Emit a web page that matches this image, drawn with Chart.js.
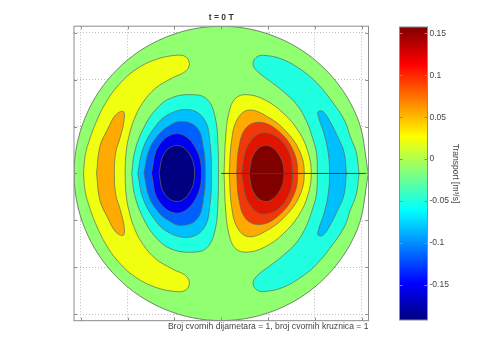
<!DOCTYPE html>
<html>
<head>
<meta charset="utf-8">
<style>
  html, body { margin: 0; padding: 0; background: #fff; }
  canvas { position: absolute; left: 0; top: 0; }
</style>
<script src="https://cdn.jsdelivr.net/npm/chart.js@4/dist/chart.umd.min.js"></script>
</head>
<body>
<canvas id="membrane" width="480" height="360"></canvas>
<canvas id="colorbar" width="480" height="360"></canvas>
<script>
// Axis ticks (no labels in the picture), the disk has radius pi
const axisLimit = 3.1416;
const axisTicks = [-3, -2, -1, 0, 1, 2, 3];

// Contour outlines, [x, y] in axis units
const disk = [[3.14,0],[2.9,-1.2],[2.22,-2.22],[1.2,-2.9],[0,-3.14],[-1.2,-2.9],[-2.22,-2.22],[-2.9,-1.2],[-3.14,0],[-2.9,1.2],[-2.22,2.22],[-1.2,2.9],[0,3.14],[1.2,2.9],[2.22,2.22],[2.9,1.2],[3.14,0]];
const yellowCrescent = [[-2.94,0],[-2.9,0.4],[-2.8,0.75],[-2.68,1.07],[-2.47,1.5],[-2.18,1.9],[-1.82,2.22],[-1.4,2.43],[-0.97,2.52],[-0.76,2.49],[-0.68,2.34],[-0.76,2.18],[-1.04,2.04],[-1.4,1.82],[-1.68,1.5],[-1.86,1.15],[-1.97,0.79],[-2.03,0.45],[-2.05,0],[-2.03,-0.45],[-1.97,-0.79],[-1.86,-1.15],[-1.68,-1.5],[-1.4,-1.82],[-1.04,-2.04],[-0.76,-2.18],[-0.68,-2.34],[-0.76,-2.49],[-0.97,-2.52],[-1.4,-2.43],[-1.82,-2.22],[-2.18,-1.9],[-2.47,-1.5],[-2.68,-1.07],[-2.8,-0.75],[-2.9,-0.4],[-2.94,0]];
const orangeCrescent = [[-2.66,0],[-2.59,0.57],[-2.43,0.93],[-2.25,1.25],[-2.09,1.32],[-2.07,1.15],[-2.15,0.79],[-2.25,0.45],[-2.28,0],[-2.25,-0.45],[-2.15,-0.79],[-2.07,-1.15],[-2.09,-1.32],[-2.25,-1.25],[-2.43,-0.93],[-2.59,-0.57],[-2.66,0]];
const cyanCrescent = [[2.94,0],[2.88,0.45],[2.75,0.79],[2.64,1.11],[2.39,1.5],[2.04,1.93],[1.75,2.18],[1.32,2.43],[0.9,2.52],[0.74,2.47],[0.68,2.32],[0.79,2.16],[1.04,1.97],[1.32,1.75],[1.61,1.47],[1.82,1.11],[1.96,0.72],[2.03,0.45],[2.05,0],[2.03,-0.45],[1.96,-0.72],[1.82,-1.11],[1.61,-1.47],[1.32,-1.75],[1.04,-1.97],[0.79,-2.16],[0.68,-2.32],[0.74,-2.47],[0.9,-2.52],[1.32,-2.43],[1.75,-2.18],[2.04,-1.93],[2.39,-1.5],[2.64,-1.11],[2.75,-0.79],[2.88,-0.45],[2.94,0]];
const blueCrescent = [[2.67,0],[2.62,0.45],[2.5,0.75],[2.32,1.11],[2.17,1.32],[2.07,1.32],[2.07,1.22],[2.19,0.86],[2.28,0.45],[2.31,0],[2.28,-0.45],[2.19,-0.86],[2.07,-1.22],[2.07,-1.32],[2.17,-1.32],[2.32,-1.11],[2.5,-0.75],[2.62,-0.45],[2.67,0]];
const troughCyan = [[-1.91,0],[-1.85,0.45],[-1.68,0.92],[-1.4,1.36],[-1.07,1.61],[-0.6,1.68],[-0.3,1.58],[-0.13,1.2],[-0.07,0.6],[-0.06,0],[-0.07,-0.6],[-0.13,-1.2],[-0.3,-1.58],[-0.6,-1.68],[-1.07,-1.61],[-1.4,-1.36],[-1.68,-0.92],[-1.85,-0.45],[-1.91,0]];
const troughLight = [[-1.78,0],[-1.68,0.5],[-1.46,0.93],[-1.14,1.25],[-0.68,1.36],[-0.36,1.15],[-0.24,0.65],[-0.21,0],[-0.24,-0.65],[-0.36,-1.15],[-0.68,-1.36],[-1.14,-1.25],[-1.46,-0.93],[-1.68,-0.5],[-1.78,0]];
const troughBlue = [[-1.65,0],[-1.54,0.5],[-1.36,0.8],[-1.15,0.99],[-0.86,1.11],[-0.52,0.98],[-0.38,0.55],[-0.34,0],[-0.38,-0.55],[-0.52,-0.98],[-0.86,-1.11],[-1.15,-0.99],[-1.36,-0.8],[-1.54,-0.5],[-1.65,0]];
const troughDeep = [[-1.49,0],[-1.34,0.58],[-0.95,0.85],[-0.58,0.6],[-0.42,0],[-0.58,-0.6],[-0.95,-0.85],[-1.34,-0.58],[-1.49,0]];
const troughNavy = [[-1.33,0],[-1.22,0.42],[-0.95,0.6],[-0.68,0.42],[-0.57,0],[-0.68,-0.42],[-0.95,-0.6],[-1.22,-0.42],[-1.33,0]];
const peakYellow = [[0.06,0],[0.09,0.72],[0.16,1.28],[0.3,1.6],[0.55,1.68],[0.93,1.57],[1.32,1.29],[1.65,0.9],[1.85,0.46],[1.92,0],[1.85,-0.46],[1.65,-0.9],[1.32,-1.29],[0.93,-1.57],[0.55,-1.68],[0.3,-1.6],[0.16,-1.28],[0.09,-0.72],[0.06,0]];
const peakOrange = [[0.17,0],[0.22,0.7],[0.34,1.15],[0.58,1.35],[0.97,1.22],[1.38,0.9],[1.68,0.46],[1.77,0],[1.68,-0.46],[1.38,-0.9],[0.97,-1.22],[0.58,-1.35],[0.34,-1.15],[0.22,-0.7],[0.17,0]];
const peakScarlet = [[0.33,0],[0.37,0.52],[0.52,0.96],[0.82,1.09],[1.2,0.92],[1.53,0.5],[1.63,0],[1.53,-0.5],[1.2,-0.92],[0.82,-1.09],[0.52,-0.96],[0.37,-0.52],[0.33,0]];
const peakRed = [[0.43,0],[0.58,0.62],[0.92,0.87],[1.36,0.6],[1.52,0],[1.36,-0.6],[0.92,-0.87],[0.58,-0.62],[0.43,0]];
const peakDark = [[0.59,0],[0.7,0.42],[0.95,0.6],[1.22,0.42],[1.34,0],[1.22,-0.42],[0.95,-0.6],[0.7,-0.42],[0.59,0]];
const radius = [[0,0],[3.1416,0]];

// Colorbar values
const barRange = [-0.1918, 0.1575];
const barTicks = [-0.15, -0.1, -0.05, 0, 0.05, 0.1, 0.15];
const barStops = [-0.1918, -0.148, -0.061, 0.027, 0.113, 0.1575];
const barColors = ['#000080', '#0000ff', '#00ffff', '#ffff00', '#ff0000', '#800000'];

const shapes = [disk, yellowCrescent, orangeCrescent, cyanCrescent, blueCrescent,
    troughCyan, troughLight, troughBlue, troughDeep, troughNavy,
    peakYellow, peakOrange, peakScarlet, peakRed, peakDark];
const shapeColors = ['#90ff70', '#f0ff10', '#ffaa00', '#20ffe0', '#00bfff',
    '#20ffe0', '#00bfff', '#0060ff', '#0000f0', '#000080',
    '#f0ff10', '#ffaa00', '#f03808', '#e01400', '#800000'];

const fontName = '"Liberation Sans", Arial, sans-serif';
const frameColor = '#8c8c8c';

function toPoints(list) {
    return list.map(p => ({ x: p[0], y: p[1] }));
}

// Short inward ticks and the box around the plot
const framePlugin = {
    id: 'frame',
    afterDraw(chart) {
        const { ctx, chartArea: a, scales } = chart;
        ctx.save();
        ctx.strokeStyle = frameColor;
        ctx.lineWidth = 1;
        ctx.strokeRect(a.left, a.top, a.right - a.left, a.bottom - a.top);
        ctx.beginPath();
        const len = 3;
        if (chart.canvas.id === 'membrane') {
            axisTicks.forEach(v => {
                const x = Math.round(scales.x.getPixelForValue(v)) + 0.5;
                ctx.moveTo(x, a.top); ctx.lineTo(x, a.top + len);
                ctx.moveTo(x, a.bottom); ctx.lineTo(x, a.bottom - len);
            });
        }
        scales.y.ticks.forEach(t => {
            const y = Math.round(scales.y.getPixelForValue(t.value)) + 0.5;
            ctx.moveTo(a.left, y); ctx.lineTo(a.left + len, y);
            ctx.moveTo(a.right, y); ctx.lineTo(a.right - len, y);
        });
        ctx.stroke();
        ctx.restore();
    }
};

function axisOptions(extra) {
    return Object.assign({
        type: 'linear',
        min: -axisLimit,
        max: axisLimit,
        afterBuildTicks: scale => { scale.ticks = axisTicks.map(v => ({ value: v })); },
        ticks: { display: false },
        border: { display: false, dash: [1, 2] },
        grid: { color: '#bdbdbd', lineWidth: 1, drawTicks: false }
    }, extra);
}

function createMembraneChart() {
    const datasets = shapes.map((shape, i) => ({
        data: toPoints(shape),
        showLine: true,
        fill: 'shape',
        backgroundColor: shapeColors[i],
        borderColor: '#5c6b55',
        borderWidth: i === 0 ? 0.8 : 0.7,
        pointRadius: 0,
        tension: i === 0 ? 0.35 : 0.4,
        order: -i
    }));
    datasets.push({
        data: toPoints(radius),
        showLine: true,
        fill: false,
        borderColor: '#3c4030',
        borderWidth: 1,
        pointRadius: 0,
        order: -shapes.length
    });

    new Chart(document.getElementById('membrane'), {
        type: 'scatter',
        data: { datasets: datasets },
        plugins: [framePlugin],
        options: {
            responsive: false,
            animation: false,
            layout: { padding: { left: 74, right: 111.5, top: 13, bottom: 28 } },
            plugins: {
                legend: { display: false },
                tooltip: { enabled: false },
                title: {
                    display: true,
                    text: 't = 0 T',
                    fullSize: false,
                    color: '#333',
                    font: { family: fontName, size: 8.5, weight: 'bold' },
                    padding: { top: 0, bottom: 3 }
                }
            },
            scales: {
                x: axisOptions({
                    title: {
                        display: true,
                        text: 'Broj cvornih dijametara = 1, broj cvornih kruznica = 1',
                        align: 'end',
                        color: '#444',
                        font: { family: fontName, size: 8.6 },
                        padding: { top: 1, bottom: 0 }
                    }
                }),
                y: axisOptions({})
            }
        }
    });
}

function createColorbar() {
    new Chart(document.getElementById('colorbar'), {
        type: 'bar',
        data: {
            labels: ['Transport'],
            datasets: [{
                data: [barRange],
                barPercentage: 1,
                categoryPercentage: 1,
                backgroundColor: (context) => {
                    const { chart } = context;
                    if (!chart.chartArea) return barColors[0];
                    const y = chart.scales.y;
                    const gradient = chart.ctx.createLinearGradient(0, y.getPixelForValue(barRange[0]), 0, y.getPixelForValue(barRange[1]));
                    barStops.forEach((v, i) => {
                        gradient.addColorStop((v - barRange[0]) / (barRange[1] - barRange[0]), barColors[i]);
                    });
                    return gradient;
                }
            }]
        },
        plugins: [framePlugin],
        options: {
            responsive: false,
            animation: false,
            layout: { padding: { left: 399.5, right: 20, top: 27, bottom: 40 } },
            plugins: { legend: { display: false }, tooltip: { enabled: false } },
            scales: {
                x: { display: false },
                y: {
                    position: 'right',
                    min: barRange[0],
                    max: barRange[1],
                    afterBuildTicks: scale => { scale.ticks = barTicks.map(v => ({ value: v })); },
                    afterFit: scale => { scale.width = 32.5; },
                    border: { display: false },
                    grid: { display: false, drawTicks: false },
                    ticks: {
                        color: '#444',
                        padding: 2,
                        font: { family: fontName, size: 8.5 },
                        callback: v => String(v)
                    },
                    title: {
                        display: true,
                        text: 'Transport [m³/s]',
                        color: '#444',
                        font: { family: fontName, size: 8.5 },
                        padding: 0
                    }
                }
            }
        }
    });
}

document.addEventListener('DOMContentLoaded', () => {
    createMembraneChart();
    createColorbar();
});
</script>
</body>
</html>
